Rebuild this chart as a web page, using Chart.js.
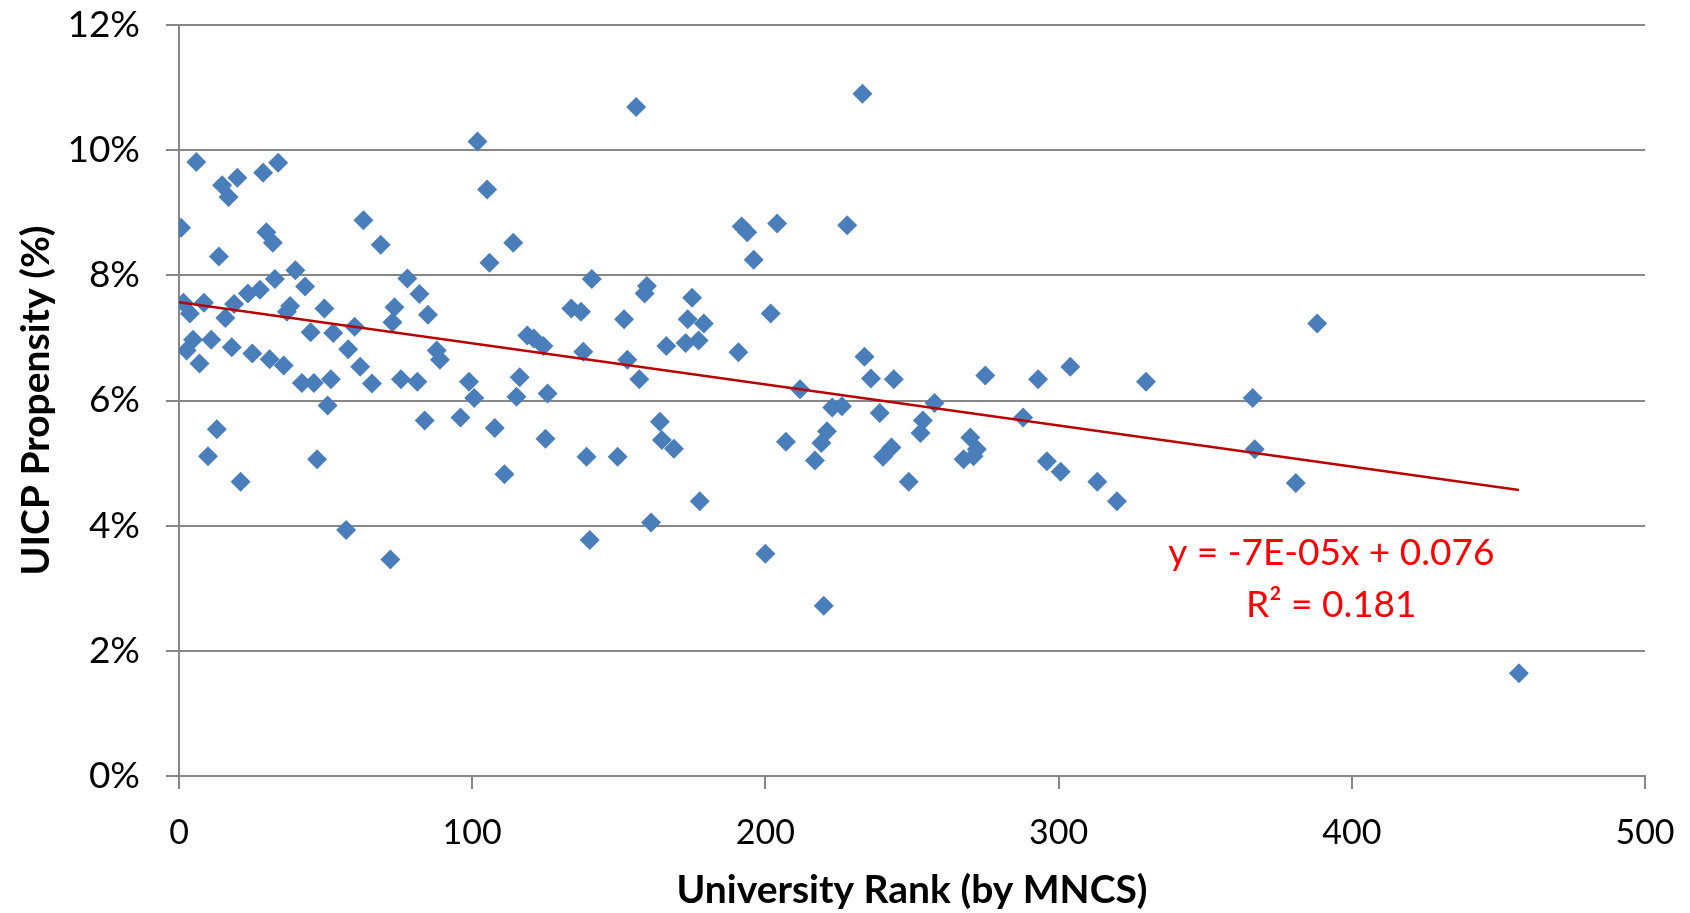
<!DOCTYPE html>
<html>
<head>
<meta charset="utf-8">
<script src="https://cdn.jsdelivr.net/npm/chart.js@4/dist/chart.umd.min.js"></script>
<style>
  html, body { margin: 0; padding: 0; background: #ffffff; }
  #wrap { width: 1690px; height: 913px; }
</style>
</head>
<body>
<div id="wrap"><canvas id="rankChart" width="1690" height="913"></canvas></div>
<script>
// University rank (by MNCS) and UICP propensity (%)
var rankX = [
  0.7, 1.5, 3.7, 2.6, 4.8, 5.9, 7.0, 8.5, 9.9, 11.0, 12.9, 13.6, 14.7, 16.9, 15.8, 18.0, 18.8, 19.9, 21.0, 23.5,
  25.0, 27.6, 28.7, 29.8, 32.0, 30.9, 32.7, 33.8, 36.8, 37.9, 35.7, 39.7, 43.0, 41.9, 44.9, 46.0, 47.1, 49.6, 51.8, 50.7,
  52.6, 57.0, 57.7, 59.9, 61.8, 62.9, 65.8, 68.8, 72.1, 72.8, 73.5, 75.7, 77.9, 81.3, 82.0, 83.8, 84.9, 87.9, 89.0, 96.0,
  98.9, 100.7, 101.8, 105.1, 105.9, 107.7, 111.0, 114.0, 115.1, 116.2, 118.8, 121.0, 124.3, 125.0, 125.7, 133.8, 137.1, 137.9, 139.0, 140.1,
  140.8, 149.6, 151.8, 152.9, 155.9, 157.0, 158.8, 159.6, 161.0, 164.0, 164.7, 166.2, 168.8, 172.8, 173.5, 175.0, 177.2, 177.6, 179.0, 190.8,
  191.9, 193.8, 196.0, 200.0, 201.8, 204.0, 207.0, 211.8, 216.9, 219.1, 219.9, 221.0, 222.8, 226.1, 227.9, 233.1, 233.8, 236.0, 239.0, 240.1,
  243.0, 243.8, 248.9, 252.9, 253.7, 257.7, 267.6, 269.9, 271.0, 272.1, 275.0, 287.9, 293.0, 296.0, 300.7, 304.0, 313.2, 319.9, 329.8, 366.2,
  366.9, 380.9, 388.2, 457.0
];
var propensity = [
  8.76, 7.56, 7.39, 6.80, 6.97, 9.81, 6.59, 7.56, 5.11, 6.97, 5.54, 8.30, 9.44, 9.25, 7.32, 6.85, 7.54, 9.56, 4.70, 7.71,
  6.75, 7.77, 9.64, 8.69, 8.52, 6.66, 7.94, 9.80, 7.42, 7.51, 6.56, 8.08, 7.82, 6.28, 7.09, 6.28, 5.06, 7.47, 6.34, 5.92,
  7.08, 3.93, 6.82, 7.18, 6.54, 8.88, 6.27, 8.49, 3.46, 7.25, 7.49, 6.34, 7.95, 6.30, 7.70, 5.68, 7.37, 6.80, 6.65, 5.73,
  6.30, 6.04, 10.14, 9.37, 8.20, 5.56, 4.82, 8.52, 6.06, 6.37, 7.04, 6.99, 6.87, 5.39, 6.11, 7.47, 7.42, 6.78, 5.10, 3.77,
  7.94, 5.10, 7.30, 6.65, 10.69, 6.34, 7.71, 7.83, 4.05, 5.66, 5.37, 6.87, 5.23, 6.92, 7.30, 7.64, 6.96, 4.39, 7.23, 6.77,
  8.78, 8.69, 8.25, 3.55, 7.39, 8.83, 5.34, 6.18, 5.04, 5.32, 2.72, 5.51, 5.89, 5.91, 8.80, 10.90, 6.70, 6.35, 5.80, 5.10,
  5.25, 6.34, 4.70, 5.48, 5.68, 5.96, 5.06, 5.41, 5.11, 5.22, 6.40, 5.73, 6.34, 5.03, 4.86, 6.54, 4.70, 4.39, 6.30, 6.04,
  5.22, 4.68, 7.23, 1.64
];

// linear trend line ends, as drawn in the picture
var trendX = [0, 457];
var trendY = [7.57, 4.57];
var trendLabel = ["y = -7E-05x + 0.076", "R\u00b2 = 0.181"];

var fontFamily = "Lato, 'Open Sans', sans-serif";
var gridColor = "#878787";

function makePoints(xs, ys) {
  var out = [];
  for (var i = 0; i < xs.length; i++) {
    out.push({ x: xs[i], y: ys[i] });
  }
  return out;
}

// writes the trend equation next to the line, anchored on the axes
var equationPlugin = {
  id: "equation",
  afterDatasetsDraw: function (chart) {
    var ctx = chart.ctx;
    var xs = chart.scales.x;
    var ys = chart.scales.y;
    var cx = xs.getPixelForValue(393);
    ctx.save();
    ctx.fillStyle = "#ff0000";
    ctx.font = "37px " + fontFamily;
    ctx.textAlign = "center";
    ctx.textBaseline = "middle";
    ctx.fillText(trendLabel[0], cx, ys.getPixelForValue(3.56));
    ctx.fillText(trendLabel[1], cx, ys.getPixelForValue(2.73));
    ctx.restore();
  },
};

var ctx = document.getElementById("rankChart").getContext("2d");
var rankChart = new Chart(ctx, {
  type: "scatter",
  data: {
    datasets: [
      {
        label: "Linear trend",
        data: makePoints(trendX, trendY),
        showLine: true,
        borderColor: "#b80000",
        borderWidth: 2.5,
        pointRadius: 0,
        fill: false,
        order: 0,
      },
      {
        label: "UICP Propensity",
        data: makePoints(rankX, propensity),
        pointStyle: "rectRot",
        pointRadius: 10,
        backgroundColor: "#4a7ebb",
        borderColor: "#4a7ebb",
        borderWidth: 0,
        order: 1,
      },
    ],
  },
  options: {
    responsive: false,
    animation: false,
    layout: {
      padding: { left: 0, top: 25, right: 45, bottom: 0 },
    },
    plugins: {
      legend: { display: false },
      tooltip: { enabled: false },
    },
    scales: {
      x: {
        type: "linear",
        min: 0,
        max: 500,
        ticks: {
          stepSize: 100,
          color: "#000000",
          padding: 24,
          font: { family: fontFamily, size: 34 },
        },
        grid: {
          drawOnChartArea: false,
          drawTicks: true,
          tickLength: 13,
          color: gridColor,
          lineWidth: 2,
        },
        border: { color: gridColor, width: 2 },
        title: {
          display: true,
          text: "University Rank (by MNCS)",
          color: "#000000",
          font: { family: fontFamily, size: 39, weight: "bold" },
          padding: { top: 0, bottom: -1 },
        },
        afterFit: function (scale) {
          scale.height = 137;
          scale.paddingLeft = 0;
          scale.paddingRight = 0;
        },
      },
      y: {
        type: "linear",
        min: 0,
        max: 12,
        ticks: {
          stepSize: 2,
          color: "#000000",
          padding: 26,
          font: { family: fontFamily, size: 37 },
          callback: function (value) {
            return value + "%";
          },
        },
        grid: {
          color: gridColor,
          lineWidth: 2,
          tickLength: 13,
        },
        border: { color: gridColor, width: 2 },
        title: {
          display: true,
          text: "UICP Propensity (%)",
          color: "#000000",
          font: { family: fontFamily, size: 39, weight: "bold" },
          padding: { top: 13, bottom: 0 },
        },
        afterFit: function (scale) {
          scale.width = 179;
          scale.paddingTop = 0;
          scale.paddingBottom = 0;
        },
      },
    },
  },
  plugins: [equationPlugin],
});
</script>
</body>
</html>
